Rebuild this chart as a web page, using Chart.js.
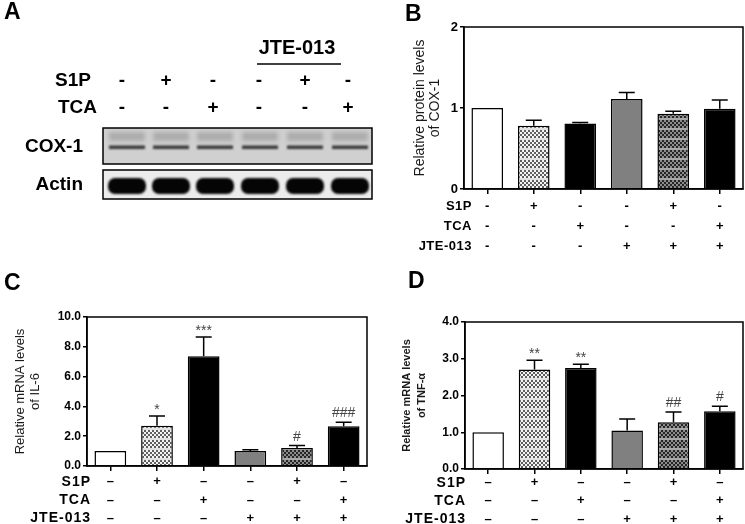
<!DOCTYPE html>
<html>
<head>
<meta charset="utf-8">
<script src="https://cdn.jsdelivr.net/npm/chart.js@4.4.1/dist/chart.umd.min.js"></script>
<style>
  body { margin: 0; background: #fff; width: 745px; height: 524px; position: relative; overflow: hidden; }
  .panel { position: absolute; }
  .letter { position: absolute; font: bold 23px Arial, "Liberation Sans", sans-serif; line-height: 1; color: #000; }
</style>
</head>
<body>
<canvas id="blot" class="panel" width="380" height="220" style="left:0;top:0"></canvas>
<canvas id="chartB" class="panel" width="365" height="260" style="left:380px;top:0"></canvas>
<canvas id="chartC" class="panel" width="375" height="264" style="left:0;top:260px"></canvas>
<canvas id="chartD" class="panel" width="370" height="264" style="left:375px;top:260px"></canvas>
<div class="letter" style="left:4px;top:0px">A</div>
<div class="letter" style="left:405px;top:2px">B</div>
<div class="letter" style="left:4px;top:271px">C</div>
<div class="letter" style="left:408px;top:269px">D</div>
<script>
// treatment groups and the +/- rows under each panel
const groups = ['Control', 'S1P', 'TCA', 'JTE-013', 'S1P + JTE-013', 'TCA + JTE-013'];
const rowNames = ['S1P', 'TCA', 'JTE-013'];
const s1pSigns = ['-', '+', '-', '-', '+', '-'];
const tcaSigns = ['-', '-', '+', '-', '-', '+'];
const jteSigns = ['-', '-', '-', '+', '+', '+'];

// B: COX-1 protein
const cox1Values = [1.0, 0.78, 0.81, 1.11, 0.93, 0.99];
const cox1Errors = [0, 0.07, 0.01, 0.08, 0.03, 0.11];
const cox1Ticks = [0, 1, 2];

// C: IL-6 mRNA
const il6Values = [1.0, 2.7, 7.36, 1.0, 1.21, 2.66];
const il6Errors = [0, 0.65, 1.3, 0.09, 0.16, 0.27];
const il6Marks = ['', '*', '***', '', '#', '###'];
const il6Ticks = [0, 2, 4, 6, 8, 10];

// D: TNF-a mRNA
const tnfValues = [1.0, 2.71, 2.75, 1.05, 1.27, 1.57];
const tnfErrors = [0, 0.25, 0.1, 0.31, 0.28, 0.14];
const tnfMarks = ['', '**', '**', '', '##', '#'];
const tnfTicks = [0, 1, 2, 3, 4];

const FONT = 'Arial, "Liberation Sans", sans-serif';
Chart.defaults.font.family = FONT;

// ---- panel A: western blot ----
(function drawBlot() {
  const ctx = document.getElementById('blot').getContext('2d');
  const laneX = [127, 171, 215, 260, 305, 350];
  const signX = [122, 166, 213, 259, 305, 348];
  ctx.fillStyle = '#000';
  ctx.textBaseline = 'middle';
  ctx.font = 'bold 20px ' + FONT;
  ctx.textAlign = 'center';
  ctx.fillText('JTE-013', 297, 48);
  ctx.lineWidth = 1.5;
  ctx.beginPath(); ctx.moveTo(257, 64); ctx.lineTo(341, 64); ctx.stroke();

  ctx.font = 'bold 19px ' + FONT;
  ctx.textAlign = 'right';
  ctx.fillText('S1P', 91, 81);
  ctx.fillText('TCA', 97, 108);
  ctx.fillText('COX-1', 83, 147);
  ctx.fillText('Actin', 83, 185);
  ctx.textAlign = 'center';
  s1pSigns.forEach((s, i) => ctx.fillText(s, signX[i], 81));
  tcaSigns.forEach((s, i) => ctx.fillText(s, signX[i], 108));

  // COX-1 strip
  ctx.fillStyle = '#d0d0d0';
  ctx.fillRect(103, 128, 269, 36);
  ctx.filter = 'blur(2px)';
  laneX.forEach(x => {
    ctx.fillStyle = '#acacac';
    ctx.fillRect(x - 18, 132, 36, 9);
  });
  ctx.filter = 'blur(1px)';
  laneX.forEach(x => {
    ctx.fillStyle = '#383838';
    ctx.fillRect(x - 18, 145.5, 36, 3.5);
  });
  ctx.filter = 'none';
  ctx.strokeStyle = '#000';
  ctx.strokeRect(103, 128, 269, 36);

  // Actin strip
  ctx.fillStyle = '#ececec';
  ctx.fillRect(103, 170, 269, 29);
  ctx.filter = 'blur(1.2px)';
  ctx.fillStyle = '#050505';
  laneX.forEach(x => {
    ctx.beginPath();
    ctx.roundRect(x - 19, 178, 38, 16, 7);
    ctx.fill();
  });
  ctx.filter = 'none';
  ctx.strokeRect(103, 170, 269, 29);
})();

// ---- bar fills ----
function makePattern(base, dot, stripe) {
  const c = document.createElement('canvas');
  c.width = 4; c.height = 10;
  const g = c.getContext('2d');
  g.fillStyle = base; g.fillRect(0, 0, 4, 10);
  g.fillStyle = dot;
  for (let y = 0; y < 8; y += 2) {
    for (let x = 0; x < 4; x += 2) {
      if (((x + y) / 2) % 2 === 0) g.fillRect(x, y, 2, 2);
    }
  }
  g.fillStyle = stripe; g.fillRect(0, 8, 4, 2);
  return g.createPattern(c, 'repeat');
}
const lightDots = makePattern('#f4f4f4', '#5e5e5e', '#e2e2e2');
const darkDots = makePattern('#262626', '#8c8c8c', '#a8a8a8');
const barFills = ['#ffffff', lightDots, '#000000', '#808080', darkDots, '#000000'];

// ---- plugins ----
const frame = {
  id: 'frame',
  afterDraw(chart) {
    const { ctx, chartArea: a } = chart;
    ctx.save();
    ctx.strokeStyle = '#000';
    ctx.lineWidth = 1.5;
    ctx.strokeRect(a.left, a.top, a.right - a.left, a.bottom - a.top);
    ctx.restore();
  }
};

const errorBars = {
  id: 'errorBars',
  afterDatasetsDraw(chart, args, opts) {
    const { ctx, scales: { x, y } } = chart;
    const values = chart.data.datasets[0].data;
    ctx.save();
    ctx.strokeStyle = '#000';
    ctx.lineWidth = 1.5;
    values.forEach((v, i) => {
      const e = opts.errors[i];
      const cx = x.getPixelForValue(i);
      const top = y.getPixelForValue(v + e);
      if (e > 0) {
        ctx.beginPath();
        ctx.moveTo(cx, y.getPixelForValue(v));
        ctx.lineTo(cx, top);
        ctx.moveTo(cx - 8, top);
        ctx.lineTo(cx + 8, top);
        ctx.stroke();
      }
      const mark = opts.marks ? opts.marks[i] : '';
      if (mark) {
        ctx.fillStyle = '#444';
        ctx.font = '14px ' + FONT;
        ctx.textAlign = 'center';
        ctx.textBaseline = 'alphabetic';
        ctx.fillText(mark, cx, top - (mark[0] === '*' ? 2 : 5));
      }
    });
    ctx.restore();
  }
};

const signRows = {
  id: 'signRows',
  afterDraw(chart, args, o) {
    const { ctx, chartArea, scales: { x } } = chart;
    const rows = [s1pSigns, tcaSigns, jteSigns];
    ctx.save();
    ctx.fillStyle = '#000';
    ctx.textBaseline = 'middle';
    rows.forEach((row, r) => {
      const yy = chartArea.bottom + o.start + r * o.gap;
      ctx.font = o.labelFont;
      ctx.textAlign = 'right';
      ctx.letterSpacing = o.spacing;
      ctx.fillText(rowNames[r], chartArea.left + o.labelShift, yy);
      ctx.letterSpacing = '0px';
      ctx.font = o.signFont;
      ctx.textAlign = 'center';
      row.forEach((s, i) => ctx.fillText(s === '-' ? o.minus : s, x.getPixelForValue(i), yy));
    });
    ctx.restore();
  }
};

function barChart(id, cfg) {
  return new Chart(document.getElementById(id), {
    type: 'bar',
    data: {
      labels: groups,
      datasets: [{
        data: cfg.values,
        backgroundColor: barFills,
        borderColor: '#000',
        borderWidth: 1.5,
        barPercentage: 0.68,
        categoryPercentage: 1
      }]
    },
    options: {
      responsive: false,
      animation: false,
      layout: { padding: cfg.padding },
      plugins: {
        legend: { display: false },
        tooltip: { enabled: false },
        errorBars: { errors: cfg.errors, marks: cfg.marks },
        signRows: cfg.rows
      },
      scales: {
        x: {
          offset: true,
          afterFit: s => { s.height = cfg.xHeight; },
          border: { color: '#000', width: 1.5 },
          grid: { display: true, drawOnChartArea: false, offset: false, tickLength: 5, color: '#000', lineWidth: 1.5 },
          ticks: { display: false }
        },
        y: {
          min: 0,
          max: cfg.ticks[cfg.ticks.length - 1],
          afterFit: s => { s.width = cfg.yWidth; },
          afterBuildTicks: s => { s.ticks = cfg.ticks.map(v => ({ value: v })); },
          border: { color: '#000', width: 1.5 },
          grid: { drawOnChartArea: false, tickLength: 4, color: '#000', lineWidth: 1.5 },
          ticks: {
            color: '#000',
            padding: 2,
            font: { size: cfg.tickSize, weight: 'bold' },
            callback: v => cfg.decimals ? v.toFixed(1) : String(v)
          },
          title: {
            display: true,
            text: cfg.title,
            color: '#1a1a1a',
            font: cfg.titleFont,
            padding: { top: cfg.titlePad, bottom: 0 }
          }
        }
      }
    },
    plugins: [frame, errorBars, signRows]
  });
}

barChart('chartB', {
  values: cox1Values, errors: cox1Errors, marks: null, ticks: cox1Ticks, decimals: false,
  padding: { top: 27, right: 2, left: 0, bottom: 0 }, yWidth: 84, xHeight: 71, tickSize: 13,
  title: ['Relative protein levels', 'of COX-1'], titleFont: { size: 14, lineHeight: '15px' }, titlePad: 32.5,
  rows: { start: 17.5, gap: 20, labelShift: 8, labelFont: 'bold 13px ' + FONT, signFont: 'bold 13px ' + FONT, minus: '-', spacing: '0.5px' }
});

barChart('chartC', {
  values: il6Values, errors: il6Errors, marks: il6Marks, ticks: il6Ticks, decimals: true,
  padding: { top: 57, right: 8, left: 0, bottom: 0 }, yWidth: 87, xHeight: 58, tickSize: 12,
  title: ['Relative mRNA levels', 'of IL-6'], titleFont: { size: 13, lineHeight: '15px' }, titlePad: 12.5,
  rows: { start: 15.7, gap: 18.3, labelShift: 4, labelFont: 'bold 14px ' + FONT, signFont: 'bold 13px ' + FONT, minus: '–', spacing: '1px' }
});

barChart('chartD', {
  values: tnfValues, errors: tnfErrors, marks: tnfMarks, ticks: tnfTicks, decimals: true,
  padding: { top: 62, right: 2, left: 0, bottom: 0 }, yWidth: 90, xHeight: 55, tickSize: 12,
  title: ['Relative mRNA levels', 'of TNF-α'], titleFont: { size: 11, weight: 'bold', lineHeight: '15px' }, titlePad: 24.2,
  rows: { start: 13.7, gap: 18.2, labelShift: 1, labelFont: 'bold 14px ' + FONT, signFont: 'bold 13px ' + FONT, minus: '–', spacing: '1px' }
});
</script>
</body>
</html>
